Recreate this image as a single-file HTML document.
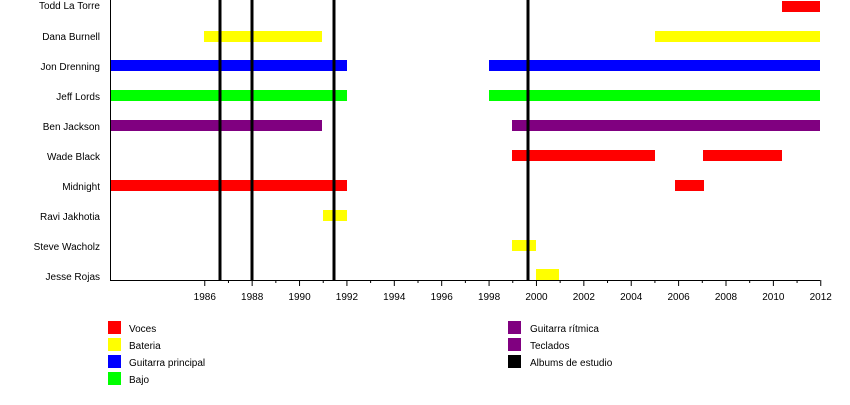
<!DOCTYPE html><html><head><style>body{margin:0;background:#fff}svg text{font-family:"Liberation Sans",sans-serif;font-size:10px;fill:#000}</style></head><body>
<svg width="850" height="400" xmlns="http://www.w3.org/2000/svg">
<g text-anchor="end">
<text x="100" y="9">Todd La Torre</text><text x="100" y="40">Dana Burnell</text><text x="100" y="70">Jon Drenning</text><text x="100" y="100">Jeff Lords</text><text x="100" y="130">Ben Jackson</text><text x="100" y="160">Wade Black</text><text x="100" y="190">Midnight</text><text x="100" y="220">Ravi Jakhotia</text><text x="100" y="250">Steve Wacholz</text><text x="100" y="280">Jesse Rojas</text>
</g>
<rect x="782" y="1" width="38" height="11" fill="#f00"/>
<rect x="204" y="31" width="118" height="11" fill="#ff0"/><rect x="655" y="31" width="165" height="11" fill="#ff0"/>
<rect x="110" y="60" width="237" height="11" fill="#00f"/><rect x="489" y="60" width="331" height="11" fill="#00f"/>
<rect x="110" y="90" width="237" height="11" fill="#0f0"/><rect x="489" y="90" width="331" height="11" fill="#0f0"/>
<rect x="110" y="120" width="212" height="11" fill="#800080"/><rect x="512" y="120" width="308" height="11" fill="#800080"/>
<rect x="512" y="150" width="143" height="11" fill="#f00"/><rect x="703" y="150" width="79" height="11" fill="#f00"/>
<rect x="110" y="180" width="237" height="11" fill="#f00"/><rect x="675" y="180" width="29" height="11" fill="#f00"/>
<rect x="323" y="210" width="24" height="11" fill="#ff0"/>
<rect x="512" y="240" width="24" height="11" fill="#ff0"/>
<rect x="536" y="269" width="23" height="11" fill="#ff0"/>
<g fill="#000"><rect x="218.5" y="0" width="3" height="280"/><rect x="250.5" y="0" width="3" height="280"/><rect x="332.5" y="0" width="3" height="280"/><rect x="526.5" y="0" width="3" height="280"/></g>
<line x1="110.5" y1="0" x2="110.5" y2="280.5" stroke="#000"/>
<line x1="110" y1="280.5" x2="820" y2="280.5" stroke="#000"/>
<g stroke="#000" id="t"></g>
<g text-anchor="middle" id="l"></g>
<g>
<rect x="108" y="321" width="13" height="13" fill="#f00"/><text x="129" y="332">Voces</text>
<rect x="108" y="338" width="13" height="13" fill="#ff0"/><text x="129" y="349">Bateria</text>
<rect x="108" y="355" width="13" height="13" fill="#00f"/><text x="129" y="366">Guitarra principal</text>
<rect x="108" y="372" width="13" height="13" fill="#0f0"/><text x="129" y="383">Bajo</text>
<rect x="508" y="321" width="13" height="13" fill="#800080"/><text x="530" y="332">Guitarra rítmica</text>
<rect x="508" y="338" width="13" height="13" fill="#800080"/><text x="530" y="349">Teclados</text>
<rect x="508" y="355" width="13" height="13" fill="#000"/><text x="530" y="366">Albums de estudio</text>
</g>
</svg>
<script>
var t=document.getElementById('t'),l=document.getElementById('l'),ns='http://www.w3.org/2000/svg';
for(var y=1986;y<=2012;y++){var x=110+(y-1982)*23.692;var ln=document.createElementNS(ns,'line');ln.setAttribute('x1',x);ln.setAttribute('x2',x);ln.setAttribute('y1',280);ln.setAttribute('y2',y%2==0?286:283);t.appendChild(ln);
if(y%2==0){var tx=document.createElementNS(ns,'text');tx.setAttribute('x',x);tx.setAttribute('y',300);tx.textContent=y;l.appendChild(tx);}}
</script>
</body></html>
